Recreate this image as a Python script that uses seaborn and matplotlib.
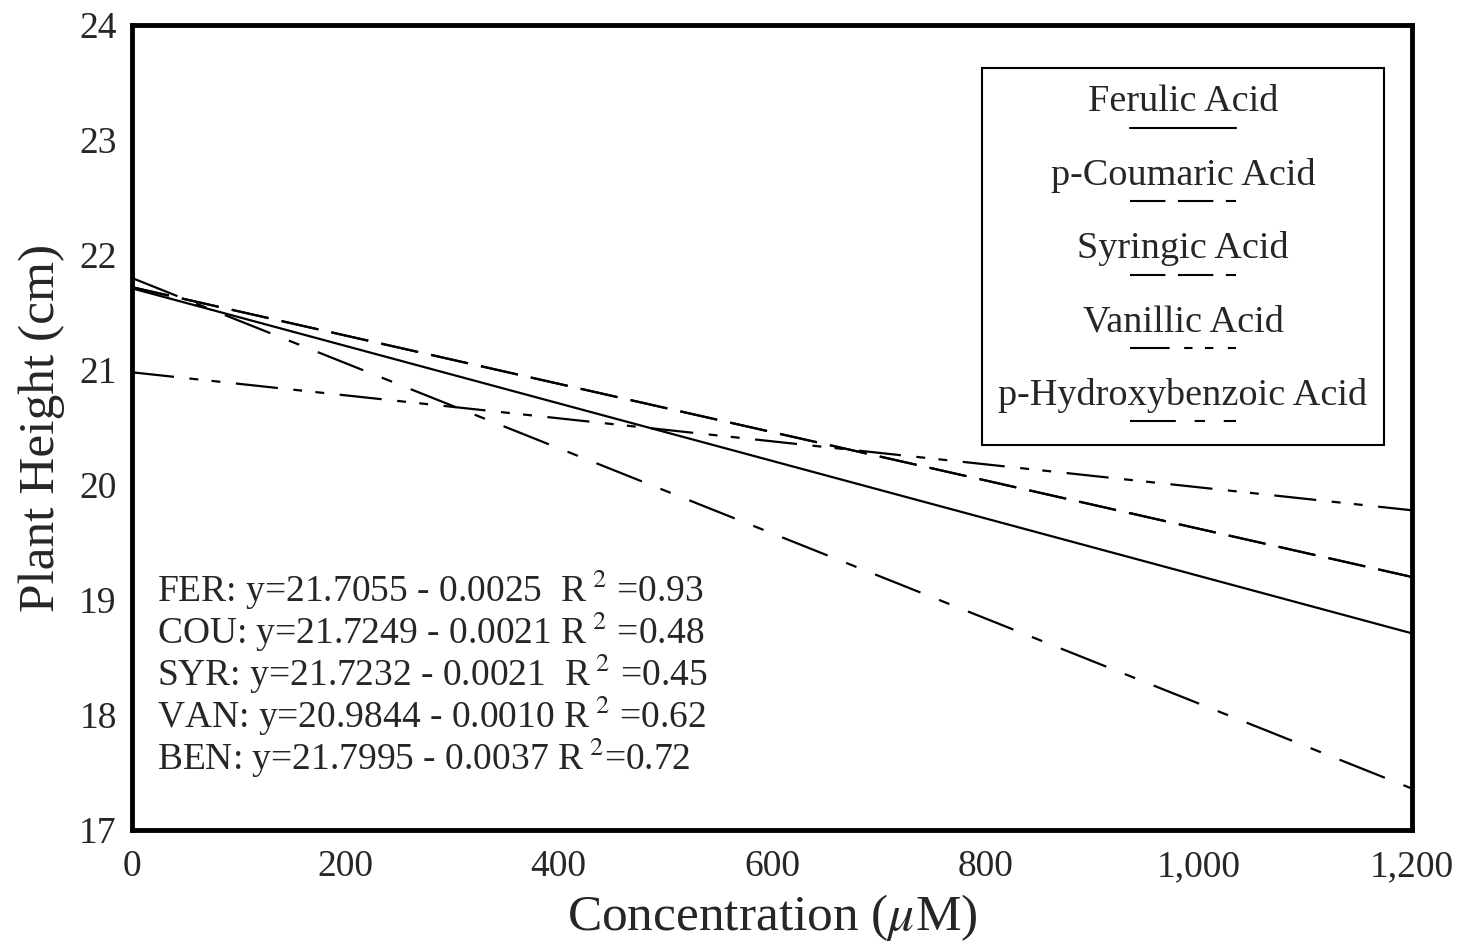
import pandas as pd
import matplotlib.pyplot as plt
import seaborn as sns
from matplotlib.lines import Line2D
from matplotlib.patches import Rectangle

# data (regression lines, value at 0 and at 1200 uM)
conc = [0, 1200]
acids = ['Ferulic Acid', 'p-Coumaric Acid', 'Syringic Acid', 'Vanillic Acid', 'p-Hydroxybenzoic Acid']
fer = [21.71, 18.71]
cou = [21.72, 19.20]
syr = [21.72, 19.20]
van = [20.98, 19.78]
ben = [21.80, 17.36]
equations = [
    'FER: y=21.7055 - 0.0025  R$^{\\ 2}$ =0.93',
    'COU: y=21.7249 - 0.0021 R$^{\\ 2}$ =0.48',
    'SYR: y=21.7232 - 0.0021  R$^{\\ 2}$ =0.45',
    'VAN: y=20.9844 - 0.0010 R$^{\\ 2}$ =0.62',
    'BEN: y=21.7995 - 0.0037 R$^{\\ 2}$=0.72',
]
xticks = [0, 200, 400, 600, 800, 1000, 1200]
xtick_labels = ['0', '200', '400', '600', '800', '1,000', '1,200']

rows = []
for name, vals in zip(acids, [fer, cou, syr, van, ben]):
    for c, v in zip(conc, vals):
        rows.append({'Concentration': c, 'Height': v, 'Acid': name})
df = pd.DataFrame(rows)

dash_styles = {
    'Ferulic Acid': '',
    'p-Coumaric Acid': (17, 6),
    'Syringic Acid': (17, 6),
    'Vanillic Acid': (19, 7, 4, 6, 4, 7),
    'p-Hydroxybenzoic Acid': (22, 9, 5, 9),
}

sns.set_style('white')
plt.rcParams['font.family'] = ['Liberation Serif', 'DejaVu Serif']
plt.rcParams['mathtext.fontset'] = 'stix'

fig = plt.figure(figsize=(14.62, 9.48), dpi=100)
W, H = 1462, 948
ax = fig.add_axes([132 / W, 1 - 830 / H, 1280 / W, 805 / H])

sns.lineplot(data=df, x='Concentration', y='Height', style='Acid', dashes=dash_styles,
             color='black', linewidth=1.6, legend=False, ax=ax)

ax.set_xlim(0, 1200)
ax.set_ylim(17, 24)
ax.set_xticks(xticks)
ax.set_xticklabels(xtick_labels)
ax.set_yticks(range(17, 25))
ax.set_yticks([v + 0.5 for v in range(17, 24)], minor=True)
ax.tick_params(axis='x', direction='in', length=13, width=1.2, labelsize=27, pad=14)
ax.tick_params(axis='y', which='major', direction='in', length=0, labelsize=27, pad=11)
ax.tick_params(axis='y', which='minor', direction='in', length=7, width=1.2)
for sp in ax.spines.values():
    sp.set_linewidth(3.5)
    sp.set_color('black')

ax.set_xlabel('Concentration ($\\mu$M)', fontsize=37, labelpad=6)
ax.set_ylabel('Plant Height (cm)', fontsize=37, labelpad=10)


def axx(px):
    return (px - 132) / 1280


def axy(py):
    return (830 - py) / 805


# regression equations
for i, txt in enumerate(equations):
    ax.text(axx(157), axy(590 + i * 42), txt, transform=ax.transAxes,
            fontsize=27, ha='left', va='center')

# legend box, text centred with the line sample below it
ax.add_patch(Rectangle((axx(982), axy(445)), axx(1384) - axx(982), axy(68) - axy(445),
                       transform=ax.transAxes, fill=False, edgecolor='black', linewidth=1.5))
for i, name in enumerate(acids):
    ty = 102 + i * 73.3
    ax.text(axx(1183), axy(ty), name, transform=ax.transAxes, fontsize=27.5,
            ha='center', va='center')
    ly = ty + 26
    style = dash_styles[name]
    ln = Line2D([axx(1130), axx(1236)], [axy(ly), axy(ly)], transform=ax.transAxes,
                color='black', linewidth=1.5)
    if style:
        ln.set_dashes(style)
    ax.add_line(ln)

plt.savefig('out.png', dpi=100)
